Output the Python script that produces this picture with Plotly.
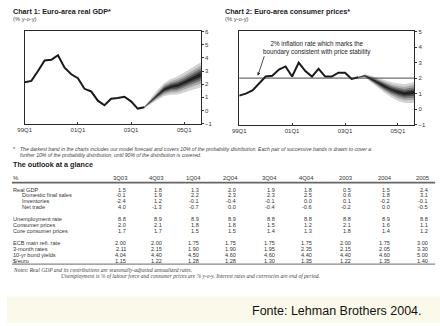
import plotly.graph_objects as go

W, H = 440, 326

# ---------------- data ----------------
hist_q = list(range(0, 19))            # 99Q1 .. 03Q3 (quarter index)
fc_q = list(range(18, 28))             # 03Q3 .. 05Q4
x_tick_vals = [0, 8, 16, 24]
x_tick_text = ["99Q1", "01Q1", "03Q1", "05Q1"]

gdp_hist = [2.15, 2.25, 3.0, 3.8, 3.85, 4.2, 3.25, 2.75, 2.45, 1.65,
            1.45, 0.75, 0.4, 0.9, 0.95, 1.05, 0.7, 0.15, 0.25]
gdp_fc_mid = [0.25, 0.7, 1.2, 1.6, 1.8, 1.9, 2.1, 2.35, 2.6, 2.85]
gdp_fc_half90 = [0.05, 0.22, 0.38, 0.5, 0.6, 0.68, 0.76, 0.84, 0.92, 1.0]

cpi_hist = [0.87, 1.0, 1.2, 1.65, 2.1, 2.15, 2.55, 2.75, 2.1, 3.0,
            2.45, 2.1, 2.6, 2.1, 2.1, 2.35, 2.35, 1.95, 2.05]
cpi_fc_mid = [2.05, 2.15, 1.95, 1.7, 1.45, 1.25, 1.1, 1.0, 1.05, 1.1]
cpi_fc_half90 = [0.03, 0.1, 0.2, 0.3, 0.4, 0.48, 0.55, 0.6, 0.65, 0.7]
cpi_target = 2.0

band_share = [1.0, 0.72, 0.5, 0.32, 0.15]          # 90%,70%,50%,30%,10% bands
band_colors = ["#d2d2d2", "#a9a9a9", "#7b7b7b", "#4c4c4c", "#222222"]

col_headers = ["3Q03", "4Q03", "1Q04", "2Q04", "3Q04", "4Q04", "2003", "2004", "2005"]
row_labels = ["Real GDP", "Domestic final sales", "Inventories", "Net trade",
              "Unemployment rate", "Consumer prices", "Core consumer prices",
              "ECB main refi. rate", "3-month rates", "10-yr bund yields", "$/euro"]
row_indent = [False, True, True, True, False, False, False, False, False, False, False]
table_values = [
    ["1.5", "1.8", "1.3", "2.0", "1.9", "1.8", "0.5", "1.5", "2.4"],
    ["-0.1", "1.9", "2.2", "2.3", "2.3", "2.5", "0.6", "1.8", "3.1"],
    ["-2.4", "1.2", "-0.1", "-0.4", "-0.1", "0.0", "0.1", "-0.2", "-0.1"],
    ["4.0", "-1.3", "-0.7", "0.0", "-0.4", "-0.6", "-0.2", "0.0", "-0.5"],
    ["8.8", "8.9", "8.9", "8.9", "8.8", "8.8", "8.8", "8.9", "8.8"],
    ["2.0", "2.1", "1.8", "1.8", "1.5", "1.2", "2.1", "1.6", "1.1"],
    ["1.7", "1.7", "1.5", "1.5", "1.4", "1.3", "1.8", "1.4", "1.2"],
    ["2.00", "2.00", "1.75", "1.75", "1.75", "1.75", "2.00", "1.75", "3.00"],
    ["2.11", "2.15", "1.90", "1.90", "1.95", "2.35", "2.15", "2.05", "3.30"],
    ["4.04", "4.40", "4.50", "4.60", "4.60", "4.40", "4.40", "4.60", "5.00"],
    ["1.15", "1.22", "1.28", "1.28", "1.30", "1.35", "1.22", "1.35", "1.40"],
]

# ---------------- layout positions (px) ----------------
col_x = [116, 153, 190, 228, 267, 305, 345, 384, 423]
row_y = [190, 196, 202, 208, 220.5, 226.5, 232.5, 244.5, 250.5, 256.5, 262.5]
TFS = 5.6  # table font size

SANS = "Liberation Sans, Arial, sans-serif"
SERIF = "Liberation Serif, Times New Roman, serif"


def px(x):
    return x / W


def py(y):
    return 1 - y / H


fig = go.Figure()


def add_chart(xa, ya, hist, mid, half):
    # fan bands, outer first
    for share, col in zip(band_share, band_colors):
        up = [m + h * share for m, h in zip(mid, half)]
        lo = [m - h * share for m, h in zip(mid, half)]
        fig.add_trace(go.Scatter(
            x=fc_q + fc_q[::-1], y=up + lo[::-1], fill="toself",
            fillcolor=col, line=dict(width=0), mode="lines",
            xaxis=xa, yaxis=ya, hoverinfo="skip", showlegend=False))
    fig.add_trace(go.Scatter(
        x=hist_q, y=hist, mode="lines",
        line=dict(color="#1a1a1a", width=2),
        xaxis=xa, yaxis=ya, showlegend=False))


add_chart("x", "y", gdp_hist, gdp_fc_mid, gdp_fc_half90)
add_chart("x2", "y2", cpi_hist, cpi_fc_mid, cpi_fc_half90)

axis_common = dict(showline=True, mirror=True, linecolor="#2a2a2a", linewidth=1,
                   showgrid=False, zeroline=False,
                   tickfont=dict(family=SANS, size=6, color="#333"))

xcommon = dict(range=[0, 26.5], tickmode="array", tickvals=x_tick_vals,
               ticktext=x_tick_text, ticks="inside", ticklen=2, tickcolor="#333",
               **axis_common)
ycommon = dict(side="right", dtick=1, ticks="outside", ticklen=2, tickcolor="#333",
               **axis_common)

fig.update_layout(
    width=W, height=H, margin=dict(l=0, r=0, t=0, b=0),
    paper_bgcolor="white", plot_bgcolor="white", showlegend=False,
    xaxis=dict(domain=[px(18), px(197)], anchor="y", **xcommon),
    yaxis=dict(domain=[py(123), py(29)], range=[-1, 6], anchor="x", **ycommon),
    xaxis2=dict(domain=[px(236), px(414)], anchor="y2", **xcommon),
    yaxis2=dict(domain=[py(124), py(29)], range=[-1, 5], anchor="x2", **ycommon),
)

shapes = []
# 2% line
shapes.append(dict(type="line", xref="x2 domain", x0=0, x1=1, yref="y2",
                   y0=cpi_target, y1=cpi_target, line=dict(color="#333", width=0.9)))
# table rules
shapes.append(dict(type="line", xref="paper", yref="paper", x0=px(5), x1=px(435),
                   y0=py(183), y1=py(183), line=dict(color="#666", width=1.6)))
shapes.append(dict(type="line", xref="paper", yref="paper", x0=px(5), x1=px(435),
                   y0=py(266), y1=py(266), line=dict(color="#444", width=0.8)))
# cream band at bottom
shapes.append(dict(type="rect", xref="paper", yref="paper", x0=0, x1=1,
                   y0=0, y1=py(299), fillcolor="#fbf9e9", line=dict(width=0),
                   layer="below"))
fig.update_layout(shapes=shapes)

ann = []


def text(x, y, s, size=6, color="#333", anchor="left", family=SANS, **kw):
    ann.append(dict(x=px(x), y=py(y), xref="paper", yref="paper", text=s,
                    showarrow=False, xanchor=anchor, yanchor="middle", borderpad=0,
                    font=dict(family=family, size=size, color=color), **kw))


text(5, 9, "<b>Chart 1: Euro-area real GDP*</b>", size=7.2, color="#222")
text(5, 16, "(% y-o-y)", size=5.8, color="#444")
text(221, 9, "<b>Chart 2: Euro-area consumer prices*</b>", size=7.2, color="#222")
text(221, 16, "(% y-o-y)", size=5.8, color="#444")

text(315, 45.5, "2% inflation rate which marks the<br>boundary consistent with price stability",
     size=6.3, color="#222", anchor="center")
ann.append(dict(x=2.8, y=2.15, xref="x2", yref="y2", text="", showarrow=True,
                ax=7, ay=-21, arrowhead=2, arrowsize=0.8, arrowwidth=0.8,
                arrowcolor="#222"))

text(5, 149, "*", size=5.5, color="#444")
text(12, 149, "<i>The darkest band in the charts includes our model forecast and covers 10% of the "
     "probability distribution. Each pair of successive bands is drawn to cover a</i>",
     size=5.1, color="#444")
text(12, 155, "<i>further 10% of the probability distribution, until 90% of the distribution is covered.</i>",
     size=5.1, color="#444")

text(5, 165, "<b>The outlook at a glance</b>", size=7.2, color="#222")

text(5, 178.5, "%", size=TFS + 0.3, color="#333")
for cx, h in zip(col_x, col_headers):
    text(cx + 8, 178.5, h, size=TFS + 0.3, color="#333", anchor="right")

for lab, ind, ry, vals in zip(row_labels, row_indent, row_y, table_values):
    text(14 if ind else 5, ry, lab, size=TFS, color="#333")
    for cx, v in zip(col_x, vals):
        text(cx + 6, ry, v, size=TFS, color="#333", anchor="right")

text(5, 271.5, "<i>Notes: Real GDP and its contributions are seasonally-adjusted annualized rates.</i>",
     size=5.5, color="#444", family=SERIF)
text(54, 278, "<i>Unemployment is % of labour force and consumer prices are % y-o-y. "
     "Interest rates and currencies are end of period.</i>",
     size=5.5, color="#444", family=SERIF)

text(335, 314, "Fonte: Lehman Brothers 2004.", size=12.5, color="#111", anchor="center")

fig.update_layout(annotations=ann)

fig.write_html("out.html")
